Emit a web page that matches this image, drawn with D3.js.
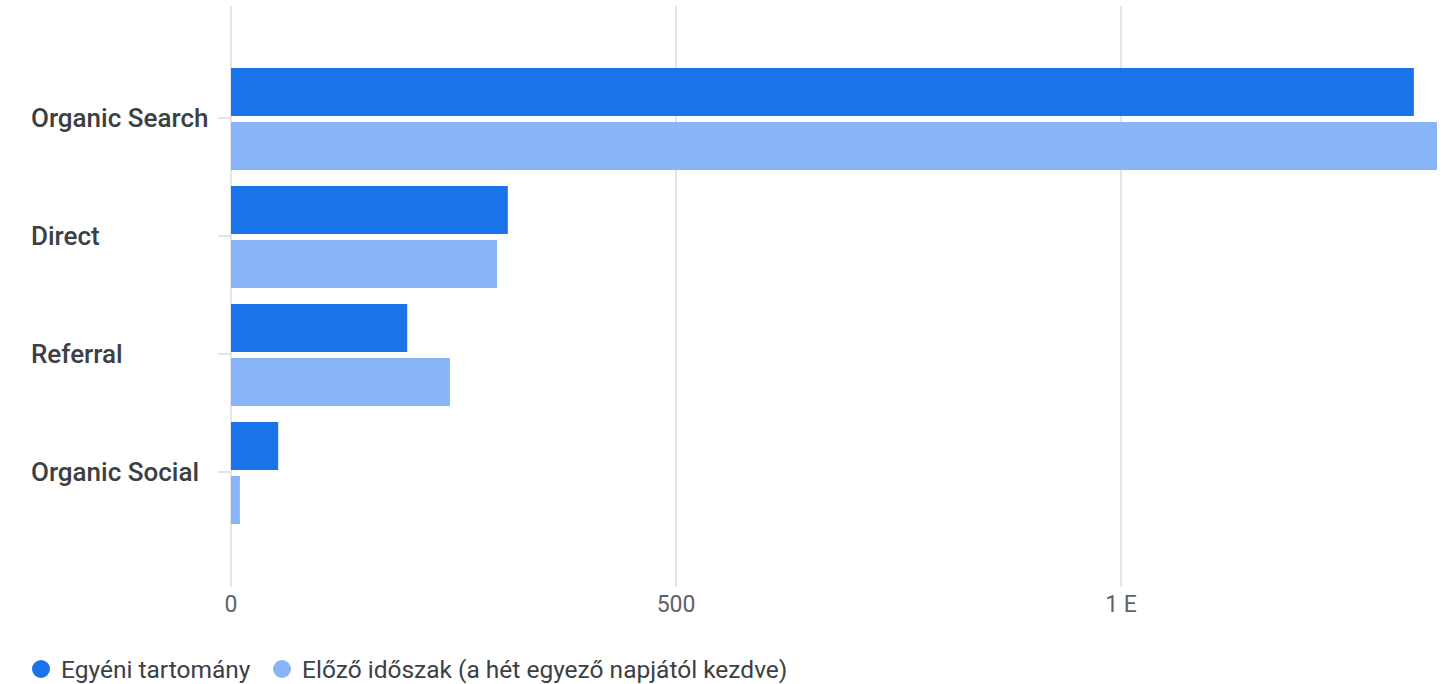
<!DOCTYPE html>
<html><head><meta charset="utf-8">
<script src="https://cdn.jsdelivr.net/npm/d3@7/dist/d3.min.js"></script>
<style>
html,body{margin:0;padding:0;background:#fff;}
svg{display:block;font-family:Roboto, "Noto Sans", sans-serif;}
</style></head><body>
<svg id="chart" width="1442" height="684"></svg>
<script>
const categories = ["Organic Search", "Direct", "Referral", "Organic Social"];
const seriesNames = ["Egyéni tartomány", "Előző időszak (a hét egyező napjától kezdve)"];
const current = [1329, 311, 198, 53];
const previous = [1355, 299, 246, 10];
const tickValues = [0, 500, 1000];
const tickLabels = ["0", "500", "1 E"];
const colors = ["#1a73e8", "#8ab4f8"];

const svg = d3.select("#chart");
const x = d3.scaleLinear().domain([0, 1355]).range([231, 1437]);
const y0 = d3.scaleBand().domain(categories).range([59, 531]);
const y1 = d3.scaleBand().domain(seriesNames).range([9, 111]).paddingInner(0.111);

// gridlines
svg.append("g").selectAll("line").data(tickValues).join("line")
  .attr("x1", d => x(d)).attr("x2", d => x(d))
  .attr("y1", 6).attr("y2", 587)
  .attr("stroke", "#dadce0").attr("stroke-width", 1.5);

// bottom tick labels
svg.append("g").selectAll("text").data(tickValues).join("text")
  .attr("x", d => x(d)).attr("y", 612)
  .attr("text-anchor", "middle")
  .attr("font-size", 23).attr("fill", "#5f6368")
  .text((d, i) => tickLabels[i]);

// bars
const rows = categories.map((c, i) => ({c, vals: [current[i], previous[i]]}));
const g = svg.append("g");
rows.forEach(r => {
  r.vals.forEach((v, j) => {
    g.append("rect")
      .attr("x", x(0))
      .attr("y", y0(r.c) + y1(seriesNames[j]))
      .attr("width", x(v) - x(0))
      .attr("height", y1.bandwidth())
      .attr("fill", colors[j]);
  });
});

// category ticks + labels
const yc = c => y0(c) + y0.bandwidth() / 2;
svg.append("g").selectAll("line").data(categories).join("line")
  .attr("x1", 218).attr("x2", x(0))
  .attr("y1", yc).attr("y2", yc)
  .attr("stroke", "#dadce0").attr("stroke-width", 1.5);
svg.append("g").selectAll("text").data(categories).join("text")
  .attr("x", 31).attr("y", yc).attr("dy", "0.35em")
  .attr("font-size", 26).attr("font-weight", 500).attr("fill", "#3c4043")
  .text(d => d);

// legend
const legendX = [41, 282];
const lg = svg.append("g");
seriesNames.forEach((s, i) => {
  lg.append("circle").attr("cx", legendX[i]).attr("cy", 669).attr("r", 9).attr("fill", colors[i]);
  lg.append("text").attr("x", legendX[i] + 20).attr("y", 669).attr("dy", "0.35em")
    .attr("font-size", 24.5).attr("fill", "#3c4043").text(s);
});
</script>
</body></html>
